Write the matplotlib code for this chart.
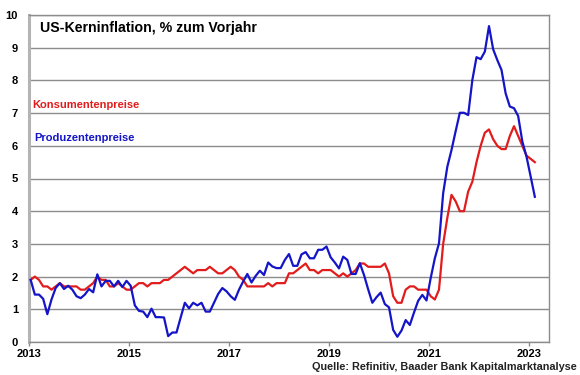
import numpy as np
import matplotlib
matplotlib.use("Agg")
import matplotlib.pyplot as plt

plt.rcParams["font.family"] = ["Liberation Sans", "DejaVu Sans"]
plt.rcParams["font.weight"] = "bold"

# Monthly values, Jan 2013 .. Feb 2023 (% yoy)
start_year = 2013
konsumentenpreise = [
    1.9, 2.0, 1.9, 1.7, 1.7, 1.6, 1.7, 1.8, 1.7, 1.7, 1.7, 1.7,  # 2013
    1.6, 1.6, 1.7, 1.8, 2.0, 1.9, 1.9, 1.7, 1.7, 1.8, 1.7, 1.6,  # 2014
    1.6, 1.7, 1.8, 1.8, 1.7, 1.8, 1.8, 1.8, 1.9, 1.9, 2.0, 2.1,  # 2015
    2.2, 2.3, 2.2, 2.1, 2.2, 2.2, 2.2, 2.3, 2.2, 2.1, 2.1, 2.2,  # 2016
    2.3, 2.2, 2.0, 1.9, 1.7, 1.7, 1.7, 1.7, 1.7, 1.8, 1.7, 1.8,  # 2017
    1.8, 1.8, 2.1, 2.1, 2.2, 2.3, 2.4, 2.2, 2.2, 2.1, 2.2, 2.2,  # 2018
    2.2, 2.1, 2.0, 2.1, 2.0, 2.1, 2.2, 2.4, 2.4, 2.3, 2.3, 2.3,  # 2019
    2.3, 2.4, 2.1, 1.4, 1.2, 1.2, 1.6, 1.7, 1.7, 1.6, 1.6, 1.6,  # 2020
    1.4, 1.3, 1.6, 3.0, 3.8, 4.5, 4.3, 4.0, 4.0, 4.6, 4.9, 5.5,  # 2021
    6.0, 6.4, 6.5, 6.2, 6.0, 5.9, 5.9, 6.3, 6.6, 6.3, 6.0, 5.7,  # 2022
    5.6, 5.5,                                                    # 2023
]
produzentenpreise = [
    1.9, 1.45, 1.45, 1.32, 0.85, 1.3, 1.65, 1.8, 1.62, 1.72, 1.6, 1.4,
    1.34, 1.45, 1.62, 1.52, 2.07, 1.7, 1.87, 1.87, 1.7, 1.87, 1.68, 1.87,
    1.72, 1.12, 0.95, 0.93, 0.76, 1.02, 0.76, 0.76, 0.75, 0.18, 0.29, 0.29,
    0.75, 1.2, 1.03, 1.2, 1.12, 1.2, 0.93, 0.93, 1.2, 1.47, 1.65, 1.55,
    1.4, 1.29, 1.6, 1.85, 2.08, 1.82, 2.02, 2.18, 2.05, 2.43, 2.31, 2.26,
    2.26, 2.51, 2.69, 2.33, 2.33, 2.68, 2.75, 2.56, 2.56, 2.82, 2.82, 2.92,
    2.59, 2.43, 2.25, 2.61, 2.51, 2.08, 2.08, 2.41, 2.05, 1.61, 1.2, 1.37,
    1.51, 1.16, 1.06, 0.37, 0.16, 0.35, 0.67, 0.52, 0.9, 1.26, 1.44, 1.27,
    1.95, 2.56, 3.02, 4.55, 5.36, 5.87, 6.45, 7.01, 7.01, 6.94, 8.01, 8.71,
    8.65, 8.88, 9.66, 8.95, 8.62, 8.32, 7.6, 7.2, 7.15, 6.91, 6.13, 5.67,
    5.06, 4.44,
]
year_ticks = [2013, 2015, 2017, 2019, 2021, 2023]
value_ticks = list(range(0, 11))

red = "#e21c1c"
blue = "#1414c8"
grid_grey = "#8c8c8c"

months = np.arange(len(konsumentenpreise))
x = start_year + (months + 0.4) / 12.0

fig = plt.figure(figsize=(5.8, 3.75), dpi=100)
ax = fig.add_axes([29 / 580, 33 / 375, 520 / 580, 327 / 375])

ax.plot(x, konsumentenpreise, color=red, lw=1.6, zorder=3)
ax.plot(x, produzentenpreise, color=blue, lw=1.6, zorder=4)

ax.set_xlim(2013, 2023.4)
ax.set_ylim(0, 10)
ax.set_xticks(year_ticks)
ax.set_yticks(value_ticks)
ax.yaxis.grid(True, color=grid_grey, lw=1.0)
ax.set_axisbelow(True)

for side in ("top", "right", "bottom"):
    ax.spines[side].set_color(grid_grey)
    ax.spines[side].set_linewidth(1.0)
ax.spines["left"].set_color("#b4b4b4")
ax.spines["left"].set_linewidth(2.2)

ax.tick_params(axis="y", length=0, pad=8, labelsize=8)
ax.tick_params(axis="x", length=3, width=1, color=grid_grey, pad=2, labelsize=8)
for lab in ax.get_xticklabels() + ax.get_yticklabels():
    lab.set_fontweight("bold")

fig.text(40 / 580, 1 - 28 / 375, "US-Kerninflation, % zum Vorjahr",
         fontsize=10.2, fontweight="bold", va="center", ha="left")
fig.text(32 / 580, 1 - 105 / 375, "Konsumentenpreise", color=red,
         fontsize=8.0, fontweight="bold", va="center", ha="left")
fig.text(34 / 580, 1 - 138 / 375, "Produzentenpreise", color=blue,
         fontsize=8.0, fontweight="bold", va="center", ha="left")
fig.text(577 / 580, 1 - 367 / 375, "Quelle: Refinitiv, Baader Bank Kapitalmarktanalyse",
         color="#222222", fontsize=7.8, fontweight="bold", va="center", ha="right")

fig.savefig("out.png", dpi=100)
